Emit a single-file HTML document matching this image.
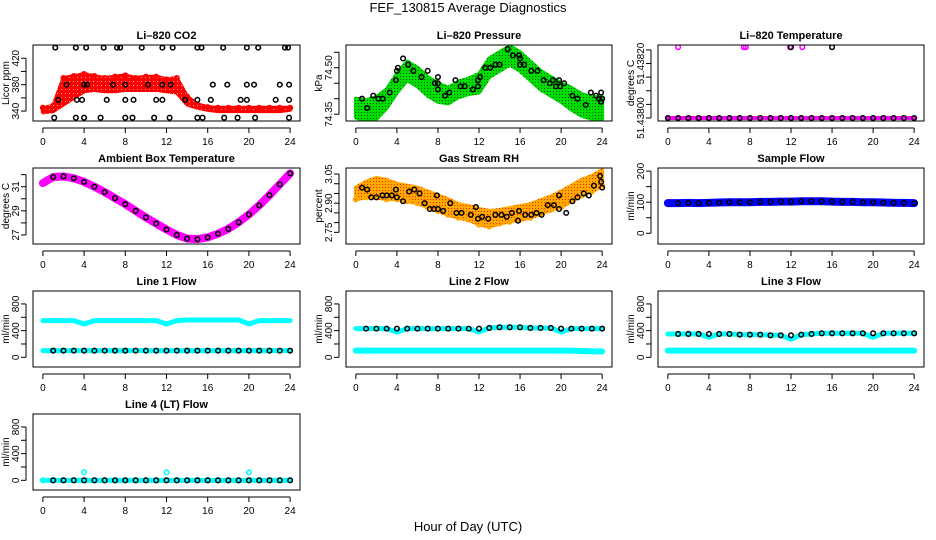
<!DOCTYPE html>
<html><head><meta charset="utf-8"><style>
body{margin:0;background:#fff}
svg{display:block;font-family:"Liberation Sans",sans-serif}
</style></head><body>
<svg id="c" width="936" height="540" viewBox="0 0 936 540">
<defs>
<pattern id="pat-green" width="3" height="3" patternUnits="userSpaceOnUse"><rect width="3" height="3" fill="#00dd00"/><rect x="1" y="1" width="1" height="1" fill="#005500"/></pattern>
<pattern id="pat-orange" width="3" height="3" patternUnits="userSpaceOnUse"><rect width="3" height="3" fill="#ffaa00"/><rect x="1" y="1" width="1" height="1" fill="#ff2200"/></pattern>
<pattern id="pat-red" width="4" height="4" patternUnits="userSpaceOnUse"><rect width="4" height="4" fill="#ff0000"/><rect x="1" y="1" width="1" height="1" fill="#ffaaaa"/></pattern>
</defs>
<text x="468" y="12" font-size="13" text-anchor="middle">FEF_130815  Average Diagnostics</text>
<text x="468" y="531" font-size="13" text-anchor="middle">Hour of Day (UTC)</text>
</svg>
<script>
// ---- data ----
const hours = [0,1,2,3,4,5,6,7,8,9,10,11,12,13,14,15,16,17,18,19,20,21,22,23,24];
const xTicks = [0,4,8,12,16,20,24];
// CO2
const co2Upper = [345,348,390,393,396,393,390,392,394,390,392,392,388,390,362,350,346,345,345,345,345,345,345,345,345];
const co2Lower = [338,340,350,360,370,372,370,370,372,372,372,372,370,368,350,345,342,340,340,340,340,340,340,340,342];
const co2BlackH = [1.2,3.2,4.2,5.9,7.2,7.5,9.6,11.6,12.6,15,15.4,17.5,19.8,20.9,23.5,23.8, 2.3,4,4.3,6.8,8,10.2,11.6,12.4,16.5,17.9,19.8,20.5,23,23.9, 1.5,3.3,3.8,6.2,8,8.8,11,11.6,13.8,15,16.3,19.2,19.8,22.6,23.9, 1.1,3.2,4,5.6,8,8.7,10.8,12.3,15,15.5,17.6,18.9,20.6,23.9];
const co2BlackV = [436,436,436,436,436,436,436,436,436,436,436,436,436,436,436,436, 380,380,380,380,380,380,380,380,380,380,380,380,380,380, 357,357,357,357,357,357,357,357,357,357,357,357,357,357,357, 330,330,330,330,330,330,330,330,330,330,330,330,330,330];
// Pressure
const presCenter = [74.37,74.36,74.37,74.40,74.45,74.49,74.47,74.44,74.42,74.41,74.43,74.44,74.45,74.50,74.52,74.54,74.52,74.49,74.46,74.44,74.42,74.40,74.38,74.37,74.37];
const presHalf = [0.03,0.035,0.035,0.03,0.03,0.03,0.03,0.03,0.03,0.025,0.025,0.025,0.03,0.03,0.03,0.03,0.03,0.03,0.03,0.03,0.03,0.035,0.035,0.035,0.035];
const presBlackH = [0.6,1.1,1.7,2.2,2.6,3.3,3.9,4,4.1,4.6,5.1,5.6,6.4,7,7.7,8,8,8,8.7,9.1,9.7,10.2,10.6,11.4,11.9,11.9,12.1,12.6,13.1,13.6,14,14.8,15.3,15.9,16,16,16.4,17.1,17.7,18.3,18.9,19.2,19.5,19.8,19.9,20.3,21.1,21.6,22.4,22.9,23.4,23.7,23.9,23.9,24];
const presBlackV = [74.40,74.37,74.41,74.40,74.40,74.42,74.46,74.49,74.50,74.53,74.51,74.49,74.47,74.49,74.45,74.45,74.47,74.43,74.41,74.42,74.46,74.44,74.44,74.43,74.44,74.46,74.47,74.50,74.50,74.51,74.51,74.56,74.54,74.54,74.53,74.51,74.51,74.49,74.49,74.46,74.45,74.46,74.44,74.46,74.44,74.45,74.41,74.40,74.38,74.42,74.41,74.40,74.42,74.39,74.40];
// Li-820 temperature
const tempLow = [51.438,51.438,51.438,51.438,51.438,51.438,51.438,51.438,51.438,51.438,51.438,51.438,51.438,51.438,51.438,51.438,51.438,51.438,51.438,51.438,51.438,51.438,51.438,51.438,51.438];
const tempHighMagH = [1.0,7.4,7.6,11.9,13.1];
const tempHighBlkH = [12.0,16.0];
const tempHighV = 51.43826;
// Ambient box temperature
const ambient = [31.3,31.8,31.85,31.7,31.4,31.0,30.55,30.05,29.55,29.0,28.45,27.95,27.45,27.0,26.7,26.65,26.8,27.1,27.5,28.05,28.7,29.45,30.3,31.2,32.1];
// Gas stream RH
const rhCenter = [2.95,2.97,2.98,2.97,2.96,2.95,2.94,2.92,2.90,2.88,2.86,2.85,2.83,2.82,2.83,2.84,2.85,2.86,2.88,2.90,2.92,2.95,2.98,3.00,3.03];
const rhHalf = [0.03,0.04,0.05,0.05,0.04,0.04,0.04,0.04,0.04,0.04,0.035,0.035,0.04,0.04,0.035,0.035,0.035,0.035,0.035,0.035,0.04,0.04,0.04,0.04,0.04];
const rhBlackH = [0.6,1.1,1.5,2,2.6,3,3.5,3.9,4,4.6,5.2,5.7,6.2,6.7,7.2,7.6,7.9,8,8.5,9.2,9.8,10.3,11.2,11.7,11.9,12.3,12.9,13.6,14.2,14.7,15.2,15.8,15.9,16.5,17.1,17.6,18.1,18.7,19.3,19.8,19.8,20.5,21.1,21.6,22.2,22.7,23.2,23.8,23.9,24];
const rhBlackV = [2.98,2.97,2.93,2.93,2.94,2.94,2.94,2.97,2.93,2.91,2.96,2.97,2.95,2.90,2.87,2.87,2.94,2.87,2.86,2.90,2.85,2.85,2.84,2.88,2.82,2.83,2.82,2.84,2.84,2.83,2.85,2.81,2.86,2.84,2.84,2.85,2.84,2.89,2.89,2.87,2.94,2.85,2.91,2.93,2.95,2.94,2.99,3.04,3.01,2.98];
// Sample flow
const sampleFlow = [97,97,98,97,98,99,100,100,100,101,101,102,102,103,103,103,102,101,101,100,100,99,98,98,97];
// Line flows
const line1Cyan = [550,550,550,550,500,550,550,550,550,550,550,550,500,550,560,560,560,560,560,560,500,550,550,550,550];
const line1Black = [100,100,100,100,100,100,100,100,100,100,100,100,100,100,100,100,100,100,100,100,100,100,100,100,100];
const line2Cyan = [430,430,430,430,380,430,430,430,430,430,430,430,380,440,450,450,450,440,440,440,380,430,430,430,430];
const line2Low = [100,100,100,100,100,100,100,100,100,100,100,100,100,100,100,100,100,100,100,100,100,100,95,90,90];
const line2Black = [430,430,430,430,430,430,430,430,430,430,430,430,430,440,450,450,450,440,440,440,430,430,430,430,430];
const line3Cyan = [350,350,350,350,300,350,350,340,340,340,330,330,270,340,350,360,360,360,360,360,300,360,360,360,360];
const line3Low = [100,100,100,100,100,100,100,100,100,100,100,100,100,100,100,100,100,100,100,100,100,100,100,100,100];
const line3Black = [350,350,350,350,350,350,350,340,340,340,330,330,330,340,350,360,360,360,360,360,360,360,360,360,360];
const line4Cyan = [0,0,0,0,120,0,0,0,0,0,0,0,120,0,0,0,0,0,0,0,120,0,0,0,0];
const line4Black = [0,0,0,0,0,0,0,0,0,0,0,0,0,0,0,0,0,0,0,0,0,0,0,0,0];
const flowTicks = [0,200,400,600,800];
const flowLabels = [0,400,800];

// ---- drawing ----
const svg = document.getElementById('c');
const NS = 'http://www.w3.org/2000/svg';
function mk(tag, attrs, parent){const e=document.createElementNS(NS,tag);for(const k in attrs)e.setAttribute(k,attrs[k]);(parent||svg).appendChild(e);return e;}
const colX = [[33,300],[346,612],[658,924]];
const rowY = [[45,121],[168,244],[291,367],[414,490]];

function panel(name, col, row, title, ylab, ymin, ymax, ticks, labels, fmt){
  const [x0,x1]=colX[col],[y0,y1]=rowY[row];
  const g = mk('g',{});
  
  
  const sx = h => x0 + (h+0.96)/25.92*(x1-x0);
  const sy = v => y1 - (v-ymin)/(ymax-ymin)*(y1-y0);
  const clipId = 'clip-'+name;
  const cp = mk('clipPath',{id:clipId},g); mk('rect',{x:x0,y:y0,width:x1-x0,height:y1-y0},cp);
  const plot = mk('g',{'clip-path':'url(#'+clipId+')'},g);
  const box = mk('rect',{x:x0,y:y0,width:x1-x0,height:y1-y0,fill:'none',stroke:'#000','stroke-width':1},g);
  
  
  const t = mk('text',{x:(x0+x1)/2,y:y0-6,'font-size':11,'font-weight':'bold','text-anchor':'middle'},g);
  t.textContent = title;
  
  
  const yl = mk('text',{transform:`translate(${x0-24},${(y0+y1)/2}) rotate(-90)`,'font-size':10,'text-anchor':'middle'},g);
  yl.textContent = ylab;
  
  
  const xa = mk('g',{},g);
  
  
  mk('line',{x1:sx(0),x2:sx(24),y1:y1+7,y2:y1+7,stroke:'#000'},xa);
  xTicks.forEach(h=>{mk('line',{x1:sx(h),x2:sx(h),y1:y1+7,y2:y1+12,stroke:'#000'},xa);
    const l=mk('text',{x:sx(h),y:y1+24,'font-size':10,'text-anchor':'middle'},xa); l.textContent=h;});
  const ya = mk('g',{},g);
  
  
  mk('line',{x1:x0-7,x2:x0-7,y1:sy(ticks[0]),y2:sy(ticks[ticks.length-1]),stroke:'#000'},ya);
  ticks.forEach(v=>mk('line',{x1:x0-12,x2:x0-7,y1:sy(v),y2:sy(v),stroke:'#000'},ya));
  labels.forEach(v=>{const l=mk('text',{transform:`translate(${x0-14},${sy(v)}) rotate(-90)`,'font-size':10,'text-anchor':'middle'},ya); l.textContent=fmt?fmt(v):v;});
  return {plot,sx,sy};
}
function band(p,up,lo,color,name){
  let d='M'+hours.map((h,i)=>p.sx(h)+','+p.sy(up[i])).join('L');
  d+='L'+hours.slice().reverse().map((h,j)=>{const i=hours.length-1-j;return p.sx(h)+','+p.sy(lo[i]);}).join('L')+'Z';
  const e=mk('path',{d,fill:color,stroke:color,'stroke-width':4,'stroke-linejoin':'round'},p.plot);
  
  
}
function thick(p,vals,color,w,name){
  const e=mk('polyline',{points:hours.map((h,i)=>p.sx(h)+','+p.sy(vals[i])).join(' '),fill:'none',stroke:color,'stroke-width':w,'stroke-linejoin':'round','stroke-linecap':'round'},p.plot);
  
  
}
function pts(p,hs,vs,color,name,r){
  const g=mk('g',{},p.plot);
  
  
  hs.forEach((h,i)=>mk('circle',{cx:p.sx(h),cy:p.sy(vs[i]),r:r||2.3,fill:'none',stroke:color,'stroke-width':1.5},g));
}

let p = panel('co2',0,0,'Li\u2013820 CO2','Licor ppm',325,440,[340,360,380,400,420],[340,380,420]);
band(p,co2Upper,co2Lower,'url(#pat-red)','co2-red-band');
pts(p,hours,co2Upper,'#ff0000','co2-red-points-upper');
pts(p,co2BlackH,co2BlackV,'#000','co2-black-points');

const presUp = presCenter.map((v,i)=>v+presHalf[i]);
const presLo = presCenter.map((v,i)=>v-presHalf[i]);
p = panel('pressure',1,0,'Li\u2013820 Pressure','kPa',74.328,74.5735,[74.35,74.40,74.45,74.50,74.55],[74.35,74.50],v=>v.toFixed(2));
band(p,presUp,presLo,'url(#pat-green)','pressure-green-band');
pts(p,presBlackH,presBlackV,'#000','pressure-black-points');

p = panel('li820-temp',2,0,'Li\u2013820 Temperature','degrees C',51.437989,51.438268,[51.43800,51.43805,51.43810,51.43815,51.43820,51.43825],[51.43800,51.43820],v=>v.toFixed(5));
thick(p,tempLow,'#ff00ff',4,'li820-temp-magenta-line');
pts(p,hours,tempLow,'#000','li820-temp-black-points');
pts(p,tempHighMagH,tempHighMagH.map(()=>tempHighV),'#ff00ff','li820-temp-magenta-high');
pts(p,tempHighBlkH,tempHighBlkH.map(()=>tempHighV),'#000','li820-temp-black-high');

p = panel('ambient-temp',0,1,'Ambient Box Temperature','degrees C',26.25,32.55,[27,28,29,30,31,32],[27,29,31]);
thick(p,ambient,'#ff00ff',8,'ambient-magenta-line');
pts(p,hours.slice(1),ambient.slice(1),'#000','ambient-black-points');

const rhUp = rhCenter.map((v,i)=>v+rhHalf[i]);
const rhLo = rhCenter.map((v,i)=>v-rhHalf[i]);
p = panel('gas-rh',1,1,'Gas Stream RH','percent',2.69,3.081,[2.75,2.80,2.85,2.90,2.95,3.00,3.05],[2.75,2.90,3.05],v=>v.toFixed(2));
band(p,rhUp,rhLo,'url(#pat-orange)','rh-orange-band');
pts(p,hours,rhLo,'#ffaa00','rh-orange-points');
pts(p,rhBlackH,rhBlackV,'#000','rh-black-points');

p = panel('sample-flow',2,1,'Sample Flow','ml/min',-34.5,210,[0,50,100,150,200],[0,100,200]);
thick(p,sampleFlow,'#0000ff',8,'sample-flow-blue-line');
pts(p,hours.slice(1),sampleFlow.slice(1),'#000','sample-flow-black-points');

p = panel('line1-flow',0,2,'Line 1 Flow','ml/min',-145,994,flowTicks,flowLabels);
thick(p,line1Cyan,'#00ffff',5,'line1-cyan-line');
thick(p,line1Black,'#00ffff',5,'line1-cyan-low');
pts(p,hours.slice(1),line1Black.slice(1),'#000','line1-black-points');

p = panel('line2-flow',1,2,'Line 2 Flow','ml/min',-145,994,flowTicks,flowLabels);
thick(p,line2Cyan,'#00ffff',5,'line2-cyan-line');
thick(p,line2Low,'#00ffff',6,'line2-cyan-low');
pts(p,hours.slice(1),line2Black.slice(1),'#000','line2-black-points');

p = panel('line3-flow',2,2,'Line 3 Flow','ml/min',-145,994,flowTicks,flowLabels);
thick(p,line3Cyan,'#00ffff',5,'line3-cyan-line');
thick(p,line3Low,'#00ffff',6,'line3-cyan-low');
pts(p,hours.slice(1),line3Black.slice(1),'#000','line3-black-points');

p = panel('line4-flow',0,3,'Line 4 (LT) Flow','ml/min',-145,994,flowTicks,flowLabels);
thick(p,line4Black,'#00ffff',5,'line4-cyan-line');
pts(p,hours,line4Cyan,'#00ffff','line4-cyan-points');
pts(p,hours.slice(1),line4Black.slice(1),'#000','line4-black-points');
</script>
</body></html>
